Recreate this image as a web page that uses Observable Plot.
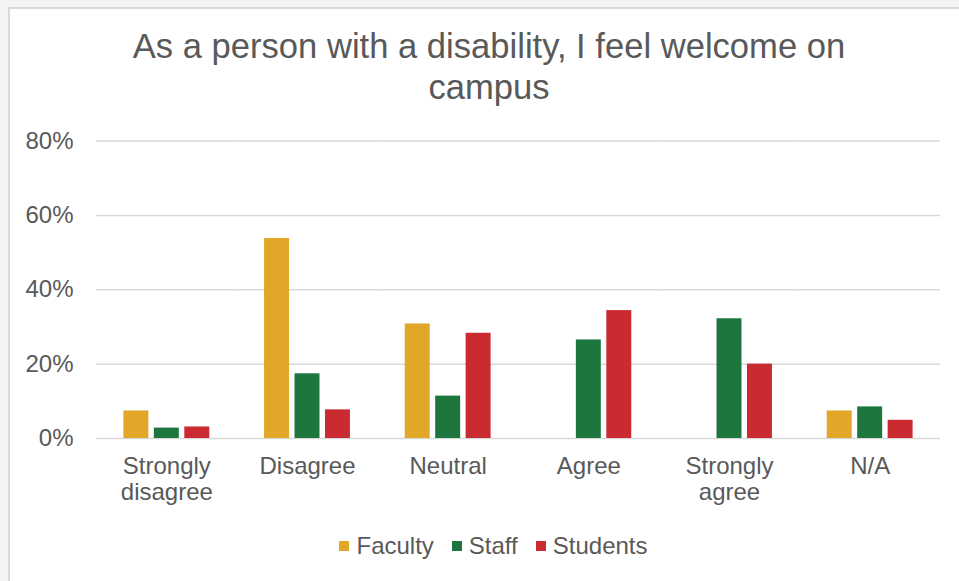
<!DOCTYPE html>
<html>
<head>
<meta charset="utf-8">
<script src="https://cdn.jsdelivr.net/npm/d3@7"></script>
<script src="https://cdn.jsdelivr.net/npm/@observablehq/plot@0.6"></script>
<style>
  html, body { margin: 0; padding: 0; background: #f4f4f4; overflow: hidden; }
  #wrap { position: relative; width: 959px; height: 581px; overflow: hidden; font-family: "Liberation Sans", Arial, sans-serif; color: #595959; }
  #panel { position: absolute; left: 8px; top: 7px; width: 1000px; height: 620px; background: #fff; border-left: 2px solid #d9d9d9; border-top: 2px solid #d9d9d9; }
  #title { position: absolute; left: 0; top: 26px; width: 978px; text-align: center; font-size: 34.6px; line-height: 41px; }
  #chart { position: absolute; left: 0; top: 120px; }
  #legend { position: absolute; left: 0; top: 534px; width: 987px; display: flex; justify-content: center; align-items: center; font-size: 24px; line-height: 24px; }
  .item { display: flex; align-items: center; margin: 0 9px; }
  .sw { width: 10px; height: 10px; margin-right: 7px; }
</style>
</head>
<body>
<div id="wrap">
  <div id="panel"></div>
  <div id="title">As a person with a disability, I feel welcome on<br>campus</div>
  <div id="chart"></div>
  <div id="legend"></div>
</div>
<script>
const categories = ["Strongly disagree", "Disagree", "Neutral", "Agree", "Strongly agree", "N/A"];
const categoryLabels = ["Strongly\ndisagree", "Disagree", "Neutral", "Agree", "Strongly\nagree", "N/A"];
const series = ["Faculty", "Staff", "Students"];
const faculty = [7.4, 53.8, 30.8, 0, 0, 7.4];
const staff = [2.8, 17.4, 11.4, 26.5, 32.2, 8.5];
const students = [3.1, 7.7, 28.3, 34.4, 20.0, 4.9];
const colors = ["#e2a628", "#1e763f", "#c92b30"];
const yTicks = [0, 0.2, 0.4, 0.6, 0.8];

const seriesValues = [faculty, staff, students];
const data = categories.flatMap((c, i) =>
  series.map((s, j) => ({category: c, series: s, value: seriesValues[j][i] / 100}))
);
const labelOf = new Map(categories.map((c, i) => [c, categoryLabels[i]]));

const chart = Plot.plot({
  width: 959,
  height: 400,
  marginLeft: 96,
  marginRight: 19,
  marginTop: 20.5,
  marginBottom: 82,
  style: {fontFamily: "'Liberation Sans', Arial, sans-serif", fontSize: "24px", color: "#595959", background: "transparent", overflow: "visible"},
  fx: {domain: categories, padding: 0, round: false, label: null, axis: null},
  x: {domain: series, paddingInner: 0.18, paddingOuter: 0.9, round: false, axis: null},
  y: {domain: [0, 0.8], label: null},
  color: {domain: series, range: colors},
  marks: [
    Plot.gridY(yTicks, {stroke: "#d9d9d9", strokeOpacity: 1, strokeWidth: 1.5}),
    Plot.barY(data, {fx: "category", x: "series", y: "value", fill: "series"}),
    Plot.axisY({ticks: yTicks, tickFormat: d3.format(".0%"), tickSize: 0, tickPadding: 23, fontSize: 24, label: null}),
    Plot.axisFx({anchor: "bottom", tickFormat: d => labelOf.get(d), tickSize: 0, tickPadding: 16, fontSize: 24, lineHeight: 1.12, label: null})
  ]
});
document.getElementById("chart").appendChild(chart);

const legend = document.getElementById("legend");
series.forEach((s, i) => {
  const item = document.createElement("div");
  item.className = "item";
  const sw = document.createElement("span");
  sw.className = "sw";
  sw.style.background = colors[i];
  const t = document.createElement("span");
  t.textContent = s;
  item.appendChild(sw);
  item.appendChild(t);
  legend.appendChild(item);
});
</script>
</body>
</html>
